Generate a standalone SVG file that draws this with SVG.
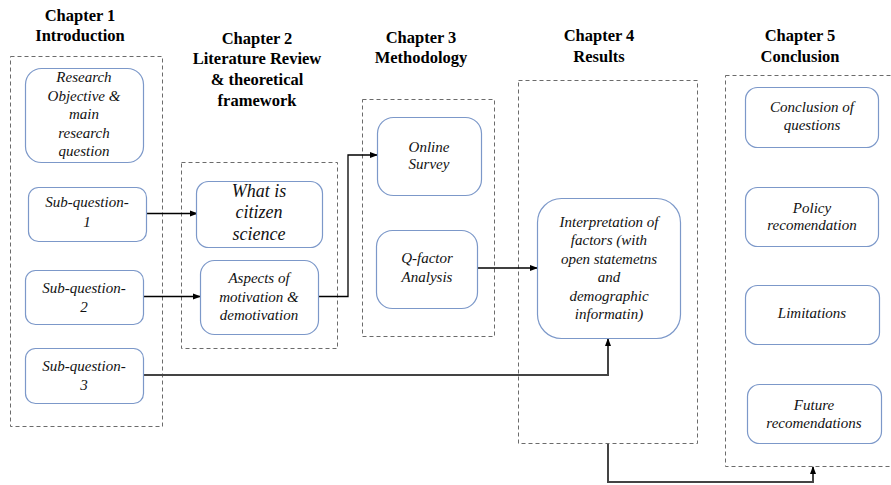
<svg xmlns="http://www.w3.org/2000/svg" width="891" height="485" viewBox="0 0 891 485">
<defs>
<marker id="ah" markerWidth="8" markerHeight="8" refX="7" refY="4" orient="auto" markerUnits="userSpaceOnUse">
<path d="M0,1 L8,4 L0,7 Z" fill="#000"/>
</marker>
<style>
.ch{fill:none;stroke:#6b6b6b;stroke-width:1;stroke-dasharray:4,3}
.nd{fill:#fff;stroke:#7c98c9;stroke-width:1.2}
.t{font-family:"Liberation Serif",serif;font-style:italic;font-size:15px;fill:#111;text-anchor:middle}
.tb{font-family:"Liberation Serif",serif;font-style:italic;font-size:18px;fill:#111;text-anchor:middle}
.h{font-family:"Liberation Serif",serif;font-weight:bold;font-size:16.5px;fill:#000;text-anchor:middle}
.c{fill:none;stroke:#000;stroke-width:1.3}
.c2{fill:none;stroke:#444;stroke-width:2}
</style>
</defs>
<rect width="891" height="485" fill="#fff"/>

<g id="titles">
<text class="h" x="80" y="21">Chapter 1</text>
<text class="h" x="80" y="41">Introduction</text>
<text class="h" x="257" y="44">Chapter 2</text>
<text class="h" x="257" y="64">Literature Review</text>
<text class="h" x="257" y="85">&amp; theoretical</text>
<text class="h" x="257" y="106">framework</text>
<text class="h" x="421" y="43">Chapter 3</text>
<text class="h" x="421" y="63">Methodology</text>
<text class="h" x="599" y="41">Chapter 4</text>
<text class="h" x="599" y="62">Results</text>
<text class="h" x="800" y="41">Chapter 5</text>
<text class="h" x="800" y="62">Conclusion</text>
</g>

<g id="chapters">
<rect id="ch1" class="ch" x="10.5" y="56.5" width="152" height="370"/>
<rect id="ch2" class="ch" x="181.5" y="162.5" width="156" height="186"/>
<rect id="ch3" class="ch" x="362.5" y="99.5" width="132" height="237"/>
<rect id="ch4" class="ch" x="518.5" y="80.5" width="179" height="363"/>
<rect id="ch5" class="ch" x="725.5" y="75.5" width="170" height="391"/>
</g>

<g id="connectors">
<line class="c" x1="147" y1="213.5" x2="197" y2="213.5" marker-end="url(#ah)"/>
<line class="c" x1="143" y1="296.5" x2="200" y2="296.5" marker-end="url(#ah)"/>
<polyline class="c" points="318,296.5 348,296.5 348,155 377,155" marker-end="url(#ah)"/>
<line class="c" x1="477" y1="268" x2="537" y2="268" marker-end="url(#ah)"/>
<polyline class="c2" points="143,375 608,375 608,339" marker-end="url(#ah)"/>
<polyline class="c2" points="608,444 608,482 813,482 813,467" marker-end="url(#ah)"/>
</g>

<g id="n-research">
<rect class="nd" x="25.5" y="68.5" width="118" height="94" rx="16"/>
<text class="t" x="84" y="82">Research</text>
<text class="t" x="84" y="101">Objective &amp;</text>
<text class="t" x="84" y="119">main</text>
<text class="t" x="84" y="138">research</text>
<text class="t" x="84" y="156">question</text>
</g>
<g id="n-sq1">
<rect class="nd" x="28.5" y="187.5" width="118" height="54" rx="10"/>
<text class="t" x="87" y="207">Sub-question-</text>
<text class="t" x="87" y="227">1</text>
</g>
<g id="n-sq2">
<rect class="nd" x="25.5" y="270.5" width="118" height="54" rx="10"/>
<text class="t" x="84" y="293">Sub-question-</text>
<text class="t" x="84" y="312">2</text>
</g>
<g id="n-sq3">
<rect class="nd" x="25.5" y="348.5" width="118" height="55" rx="10"/>
<text class="t" x="84" y="371">Sub-question-</text>
<text class="t" x="84" y="390">3</text>
</g>

<g id="n-citizen">
<rect class="nd" x="196.5" y="181.5" width="126" height="66" rx="12"/>
<text class="tb" x="259" y="197">What is</text>
<text class="tb" x="259" y="218">citizen</text>
<text class="tb" x="259" y="240">science</text>
</g>
<g id="n-aspects">
<rect class="nd" x="200.5" y="260.5" width="118" height="74" rx="14"/>
<text class="t" x="259" y="283">Aspects of</text>
<text class="t" x="259" y="302">motivation &amp;</text>
<text class="t" x="259" y="320">demotivation</text>
</g>

<g id="n-survey">
<rect class="nd" x="377.5" y="117.5" width="104" height="78" rx="16"/>
<text class="t" x="429" y="152">Online</text>
<text class="t" x="429" y="169">Survey</text>
</g>
<g id="n-qfactor">
<rect class="nd" x="376.5" y="230.5" width="101" height="78" rx="16"/>
<text class="t" x="427" y="263">Q-factor</text>
<text class="t" x="427" y="282">Analysis</text>
</g>

<g id="n-interp">
<rect class="nd" x="537.5" y="198.5" width="143" height="140" rx="24"/>
<text class="t" x="609" y="227">Interpretation of</text>
<text class="t" x="609" y="245">factors (with</text>
<text class="t" x="609" y="264">open statemetns</text>
<text class="t" x="609" y="282">and</text>
<text class="t" x="609" y="301">demographic</text>
<text class="t" x="609" y="319">informatin)</text>
</g>

<g id="n-concl">
<rect class="nd" x="745.5" y="87.5" width="133" height="60" rx="12"/>
<text class="t" x="812" y="112">Conclusion of</text>
<text class="t" x="812" y="130">questions</text>
</g>
<g id="n-policy">
<rect class="nd" x="745.5" y="187.5" width="133" height="59" rx="12"/>
<text class="t" x="812" y="213">Policy</text>
<text class="t" x="812" y="230">recomendation</text>
</g>
<g id="n-limits">
<rect class="nd" x="745.5" y="285.5" width="134" height="59" rx="12"/>
<text class="t" x="812" y="318">Limitations</text>
</g>
<g id="n-future">
<rect class="nd" x="747.5" y="384.5" width="134" height="59" rx="12"/>
<text class="t" x="814" y="410">Future</text>
<text class="t" x="814" y="428">recomendations</text>
</g>
</svg>
